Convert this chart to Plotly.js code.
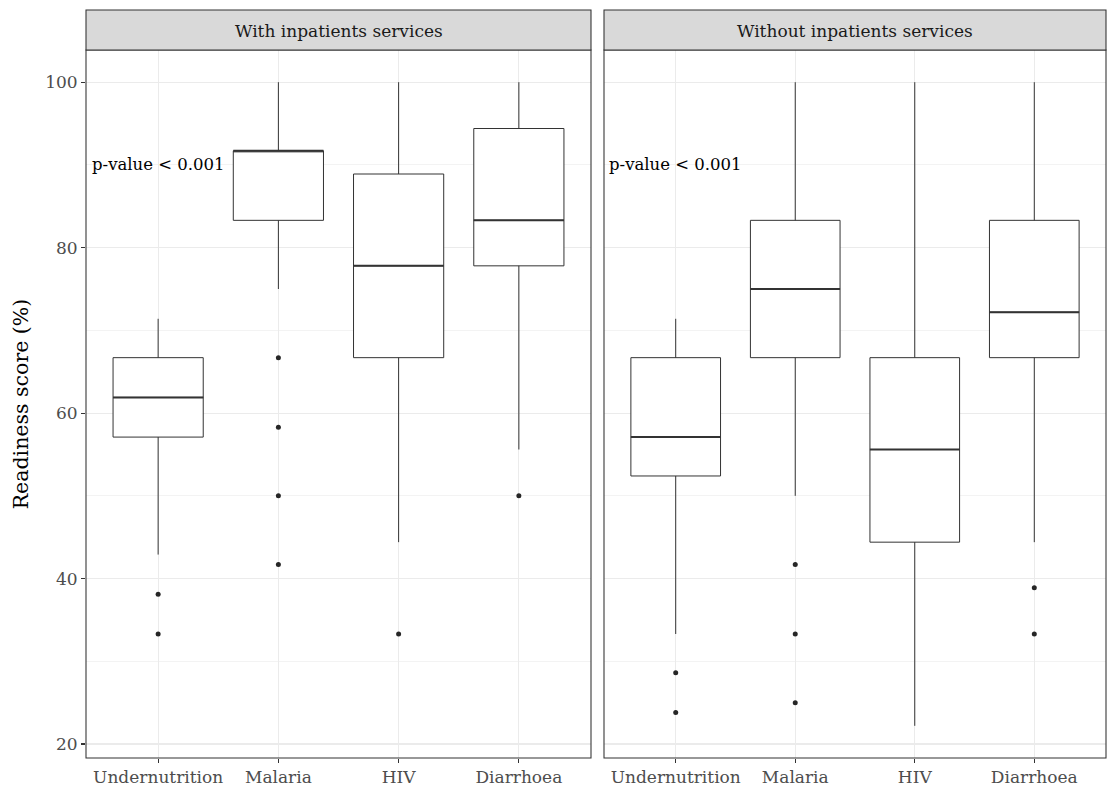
<!DOCTYPE html>
<html>
<head>
<meta charset="utf-8">
<script src="https://cdn.plot.ly/plotly-3.0.1.min.js"></script>
<style>html,body{margin:0;padding:0;background:#fff;}#chart{width:1107px;height:792px;}</style>
</head>
<body>
<div id="chart"></div>
<script>
// ---- data ----
const categories = ["Undernutrition", "Malaria", "HIV", "Diarrhoea"];
const facets = ["With inpatients services", "Without inpatients services"];

// With inpatients services
const withLowerFence = [42.9, 75.0, 44.4, 55.6];
const withQ1         = [57.1, 83.3, 66.7, 77.8];
const withMedian     = [61.9, 91.7, 77.8, 83.3];
const withQ3         = [66.7, 91.7, 88.9, 94.4];
const withUpperFence = [71.4, 100, 100, 100];
const withOutlierCat = ["Undernutrition", "Undernutrition", "Malaria", "Malaria", "Malaria", "Malaria", "HIV", "Diarrhoea"];
const withOutlierVal = [38.1, 33.3, 66.7, 58.3, 50.0, 41.7, 33.3, 50.0];

// Without inpatients services
const woLowerFence = [33.3, 50.0, 22.2, 44.4];
const woQ1         = [52.4, 66.7, 44.4, 66.7];
const woMedian     = [57.1, 75.0, 55.6, 72.2];
const woQ3         = [66.7, 83.3, 66.7, 83.3];
const woUpperFence = [71.4, 100, 100, 100];
const woOutlierCat = ["Undernutrition", "Undernutrition", "Malaria", "Malaria", "Malaria", "Diarrhoea", "Diarrhoea"];
const woOutlierVal = [28.6, 23.8, 41.7, 33.3, 25.0, 38.9, 33.3];

const annotationText = "p-value < 0.001";
const annotationY = 90;
const yTitle = "Readiness score (%)";

// ---- styling ----
const FONT = "DejaVu Serif, serif";
const DARK = "#333333";
const GRID = "#EBEBEB";
const BOXW = 0.75;
const pos = categories.map((c, i) => i);
const idx = c => categories.indexOf(c);

function panelTraces(lf, q1, med, q3, uf, oc, ov, xa, ya) {
  const tr = [];
  tr.push({
    type: "box", x: pos, q1: q1, median: med, q3: q3, lowerfence: lf, upperfence: uf,
    width: BOXW, whiskerwidth: 0, boxpoints: false,
    fillcolor: "#FFFFFF", line: {color: DARK, width: 1},
    xaxis: xa, yaxis: ya, showlegend: false, hoverinfo: "skip"
  });
  // thicker median (ggplot fatten)
  const mx = [], my = [];
  med.forEach((m, i) => { mx.push(i - BOXW / 2, i + BOXW / 2, null); my.push(m, m, null); });
  tr.push({type: "scatter", mode: "lines", x: mx, y: my, line: {color: DARK, width: 2},
    xaxis: xa, yaxis: ya, showlegend: false, hoverinfo: "skip"});
  tr.push({type: "scatter", mode: "markers", x: oc.map(idx), y: ov,
    marker: {color: "#262626", size: 5}, xaxis: xa, yaxis: ya, showlegend: false, hoverinfo: "skip"});
  return tr;
}

const data = [].concat(
  panelTraces(withLowerFence, withQ1, withMedian, withQ3, withUpperFence, withOutlierCat, withOutlierVal, "x", "y"),
  panelTraces(woLowerFence, woQ1, woMedian, woQ3, woUpperFence, woOutlierCat, woOutlierVal, "x2", "y2")
);

const xBase = {
  range: [-0.6, 3.6], tickvals: pos, ticktext: categories, showgrid: true, gridcolor: GRID, gridwidth: 1.07,
  zeroline: false, ticks: "outside", ticklen: 4, tickwidth: 1.07, tickcolor: DARK,
  tickfont: {family: FONT, size: 17, color: "#4D4D4D"}, showline: false, fixedrange: true
};
const yBase = {
  range: [18.31, 103.89], tickvals: [20, 40, 60, 80, 100], showgrid: true, gridcolor: GRID, gridwidth: 1.07,
  minor: {tickvals: [30, 50, 70, 90], showgrid: true, gridcolor: GRID, gridwidth: 0.6, ticks: ""},
  zeroline: false, showline: false, fixedrange: true
};

const STRIP_H = 40 / 708;
const shapes = [], annotations = [];
[["x", "y"], ["x2", "y2"]].forEach(([xa, ya], k) => {
  shapes.push({type: "rect", xref: xa + " domain", yref: ya + " domain", x0: 0, x1: 1, y0: 0, y1: 1,
    line: {color: DARK, width: 1.07}, fillcolor: "rgba(0,0,0,0)", layer: "above"});
  shapes.push({type: "rect", xref: xa + " domain", yref: ya + " domain", x0: 0, x1: 1, y0: 1, y1: 1 + STRIP_H,
    line: {color: DARK, width: 1.07}, fillcolor: "#D9D9D9", layer: "above"});
  annotations.push({xref: xa + " domain", yref: ya + " domain", x: 0.5, y: 1 + STRIP_H / 2 - 0.002,
    text: facets[k], showarrow: false, xanchor: "center", yanchor: "middle",
    font: {family: FONT, size: 17, color: "#1A1A1A"}});
  annotations.push({xref: xa, yref: ya, x: 0, y: annotationY, text: annotationText, showarrow: false,
    xanchor: "center", yanchor: "middle", font: {family: FONT, size: 16.5, color: "#000000"}});
});

const layout = {
  width: 1107, height: 792,
  margin: {l: 86, r: 1, t: 50, b: 34, pad: 0},
  paper_bgcolor: "#FFFFFF", plot_bgcolor: "#FFFFFF",
  font: {family: FONT},
  xaxis: Object.assign({}, xBase, {domain: [0, 505 / 1020], anchor: "y"}),
  xaxis2: Object.assign({}, xBase, {domain: [518 / 1020, 1], anchor: "y2"}),
  yaxis: Object.assign({}, yBase, {anchor: "x", ticks: "outside", ticklen: 4, tickwidth: 1.07, tickcolor: DARK,
    tickfont: {family: FONT, size: 17, color: "#4D4D4D"},
    title: {text: yTitle, font: {family: FONT, size: 20.5, color: "#000000"}, standoff: 10}}),
  yaxis2: Object.assign({}, yBase, {anchor: "x2", matches: "y", showticklabels: false, ticks: ""}),
  shapes: shapes, annotations: annotations,
  showlegend: false
};

Plotly.newPlot("chart", data, layout, {displayModeBar: false, staticPlot: true});
</script>
</body>
</html>
